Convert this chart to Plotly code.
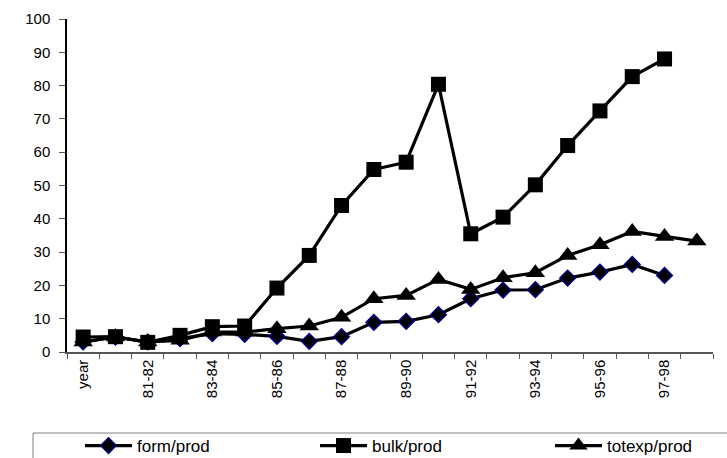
import plotly.graph_objects as go

# Categories along the x axis
years = ["year", "80-81", "81-82", "82-83", "83-84", "84-85", "85-86", "86-87",
         "87-88", "88-89", "89-90", "90-91", "91-92", "92-93", "93-94", "94-95",
         "95-96", "96-97", "97-98", "98-99"]

# Series values (ratios, %)
form_prod = [3, 4.5, 3, 4, 5.5, 5.3, 4.7, 3.2, 4.6, 8.9, 9.2, 11.2, 16,
             18.6, 18.7, 22.2, 24, 26.3, 23, None]
bulk_prod = [4.5, 4.6, 2.9, 5, 7.6, 7.8, 19.2, 29, 44, 54.8, 57, 80.4, 35.5,
             40.5, 50.2, 62, 72.4, 82.7, 88, None]
totexp_prod = [3, 4.5, 3, 3.5, 6, 6, 7, 7.8, 10.4, 16, 17, 21.8, 18.8,
               22.3, 23.8, 29, 32.2, 36.2, 34.7, 33.3]

# Every other category is labelled
tick_text = [y if i % 2 == 0 else "" for i, y in enumerate(years)]

fig = go.Figure()

fig.add_trace(go.Scatter(
    x=years, y=form_prod, name="form/prod", mode="lines+markers",
    line=dict(color="black", width=3.2),
    marker=dict(symbol="diamond", size=12, color="black",
                line=dict(color="#000080", width=1.5)),
    legendwidth=173,
))
fig.add_trace(go.Scatter(
    x=years, y=bulk_prod, name="bulk/prod", mode="lines+markers",
    line=dict(color="black", width=3.2),
    marker=dict(symbol="square", size=15, color="black"),
    legendwidth=173,
))
fig.add_trace(go.Scatter(
    x=years, y=totexp_prod, name="totexp/prod", mode="lines+markers",
    line=dict(color="black", width=3.2),
    marker=dict(symbol="triangle-up", size=17, color="black"),
))

axis_font = dict(family="Arial, Liberation Sans, sans-serif", size=15, color="black")

# plot area: 67..713 px horizontally, 19..352 px vertically
PW, PH = 646, 333

fig.update_layout(
    width=727, height=458,
    margin=dict(l=67, r=14, t=19, b=106, autoexpand=False),
    paper_bgcolor="white", plot_bgcolor="white",
    showlegend=True,
    legend=dict(
        orientation="h", x=(80 - 67) / PW, xanchor="left",
        y=(352 - 446) / PH, yanchor="middle",
        font=dict(family="Arial, Liberation Sans, sans-serif", size=17, color="black"),
        itemwidth=47,
        bgcolor="rgba(0,0,0,0)", borderwidth=0,
        itemclick=False,
    ),
    xaxis=dict(
        type="category", categoryorder="array", categoryarray=years,
        tickmode="array", tickvals=years, ticktext=tick_text,
        tickson="boundaries", ticks="outside", ticklen=5, tickwidth=1,
        tickcolor="#555555", tickangle=-90,
        showline=True, linecolor="#555555", linewidth=1.5,
        showgrid=False, zeroline=False,
        range=[-0.5, 19.5], tickfont=axis_font,
    ),
    yaxis=dict(
        range=[0, 100], tickmode="linear", tick0=0, dtick=10,
        ticks="outside", ticklen=6, tickwidth=1, tickcolor="#555555",
        showline=True, linecolor="black", linewidth=1.5,
        showgrid=False, zeroline=False,
        tickfont=axis_font, ticklabelstandoff=6,
    ),
    shapes=[dict(
        type="rect", xref="paper", yref="paper",
        x0=(33 - 67) / PW, x1=(740 - 67) / PW,
        y0=(352 - 470) / PH, y1=(352 - 433) / PH,
        line=dict(color="#808080", width=1), fillcolor="rgba(0,0,0,0)",
        layer="below",
    )],
)

fig.write_html("out.html")
